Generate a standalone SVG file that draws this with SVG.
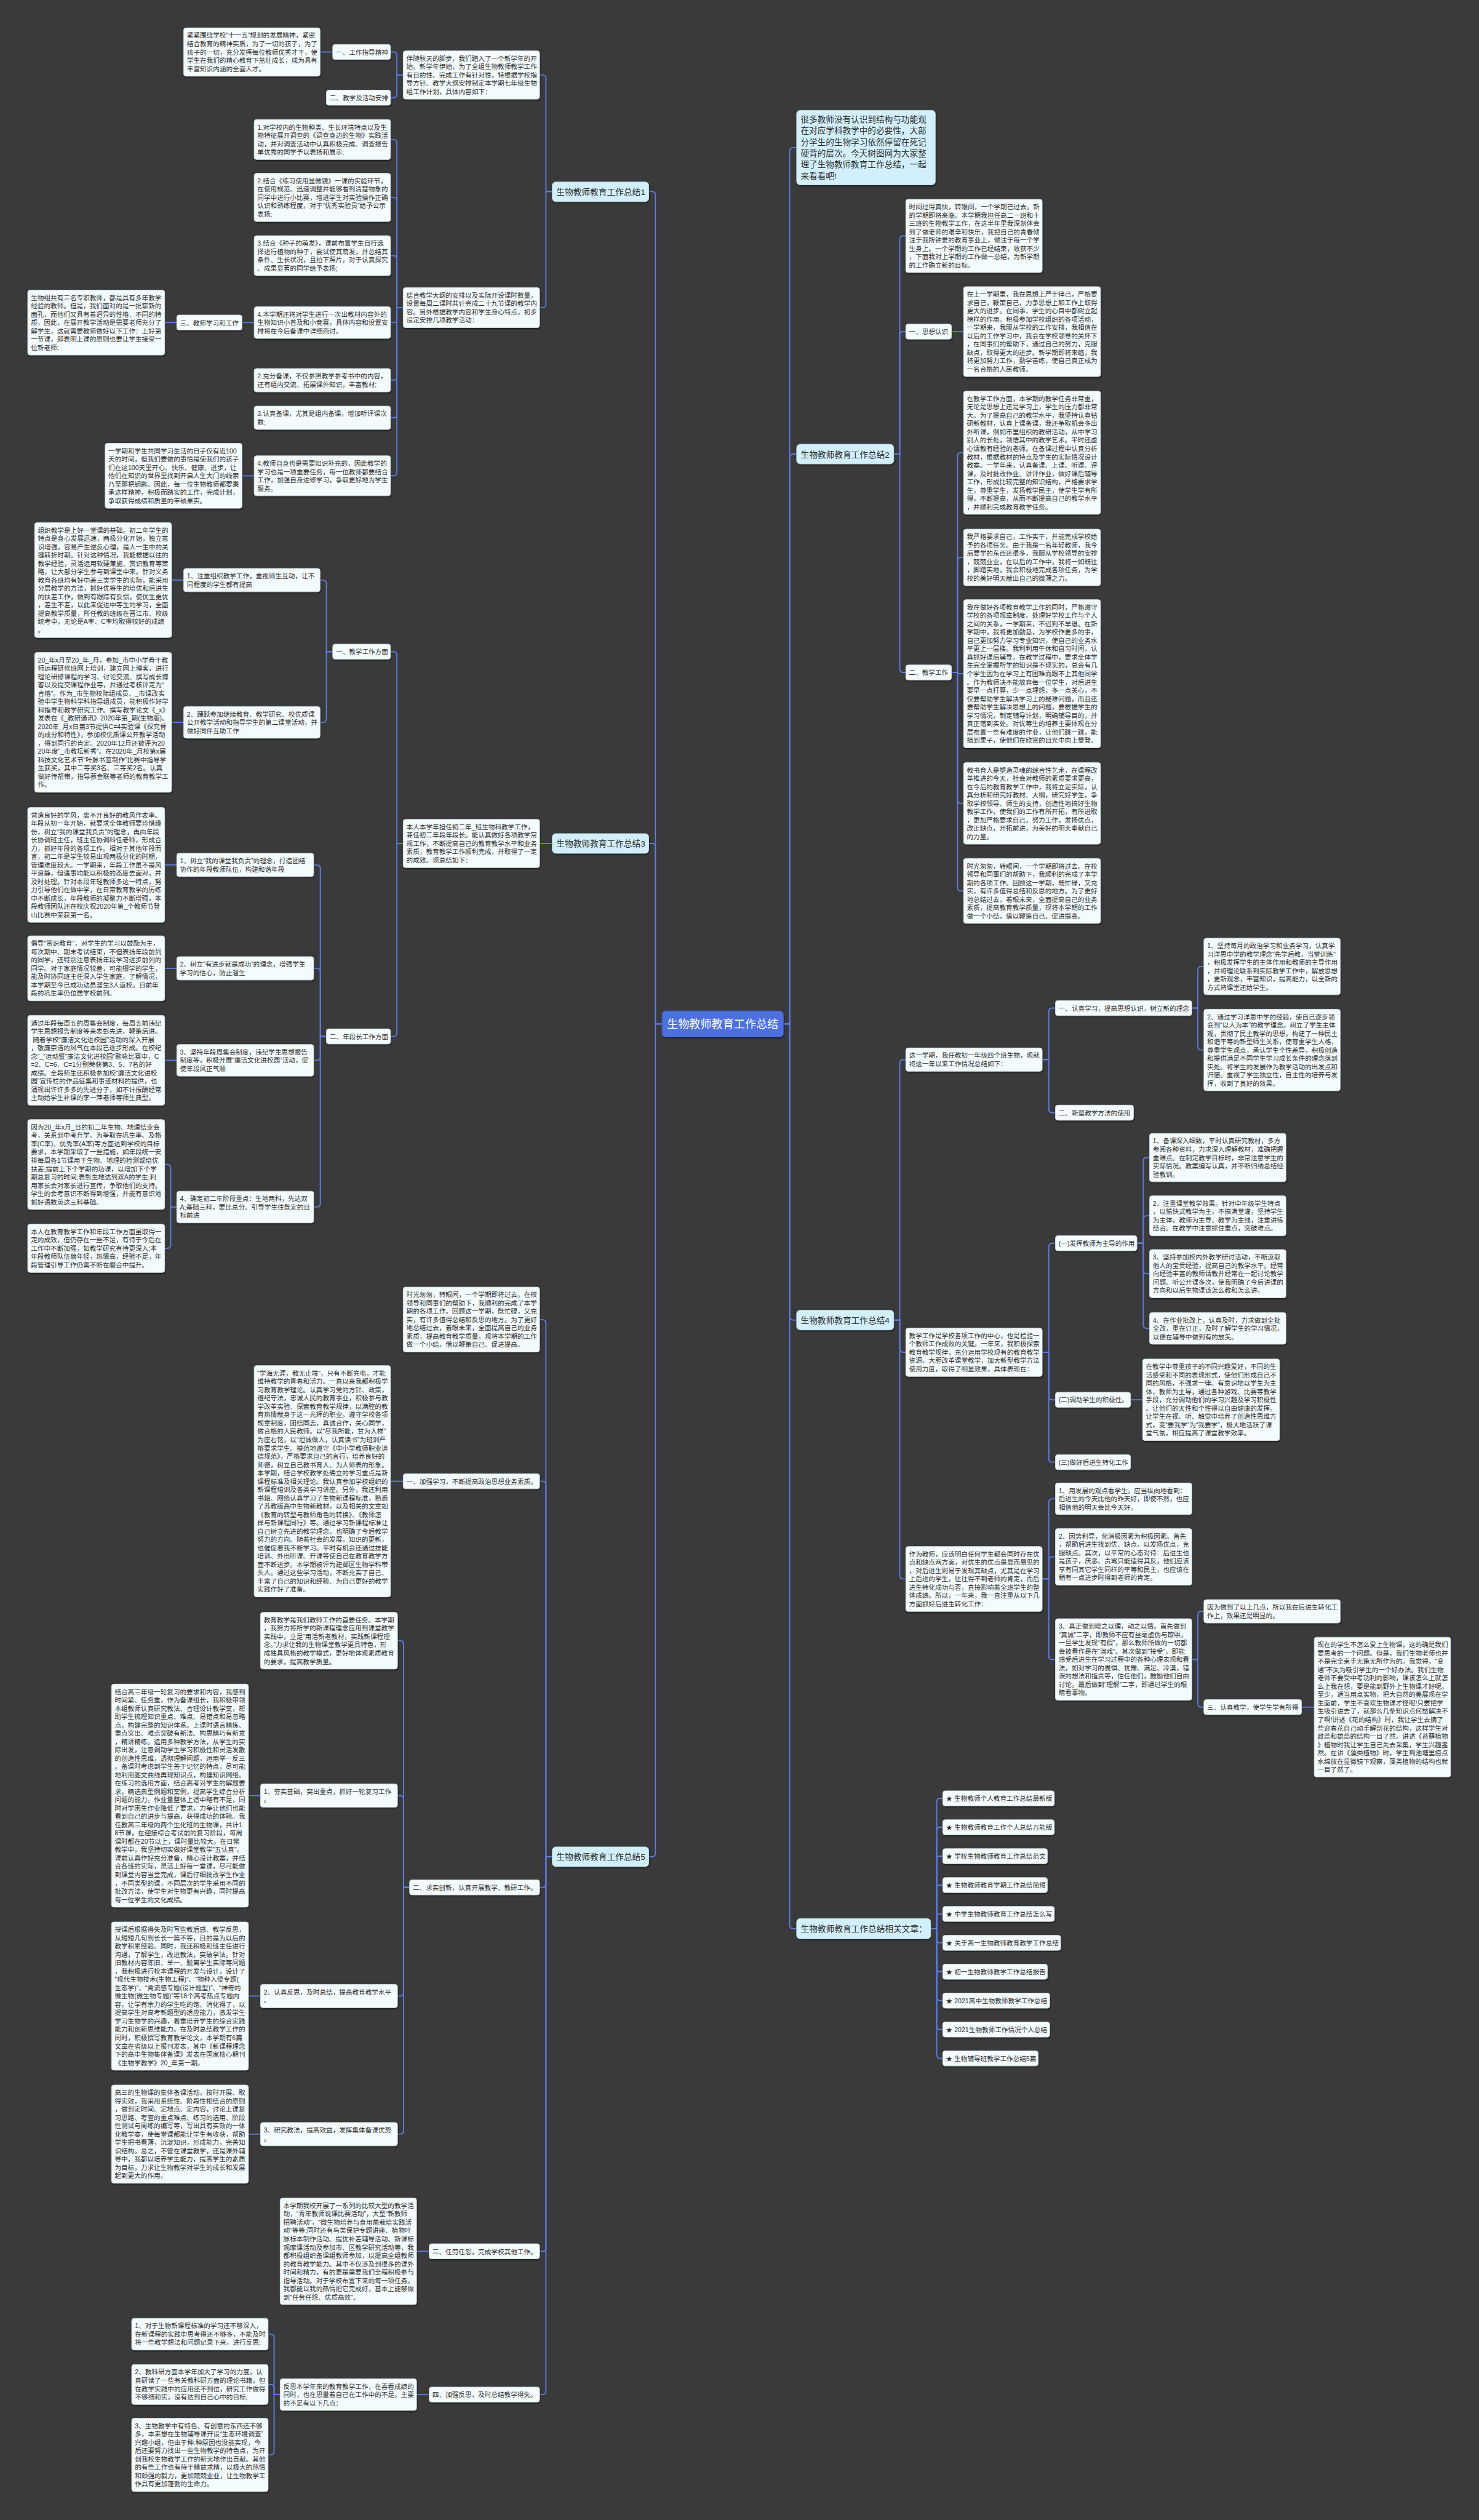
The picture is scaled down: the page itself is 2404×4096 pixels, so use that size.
<svg xmlns="http://www.w3.org/2000/svg" width="2404" height="4096" viewBox="0 0 2404 4096">
<defs>
<filter id="sh" x="-5%" y="-5%" width="110%" height="120%"><feDropShadow dx="1" dy="2" stdDeviation="1.2" flood-color="#000" flood-opacity="0.45"/></filter>
<style>
.b rect{fill:#f4fbfd;stroke:#cfdde3;stroke-width:1;filter:url(#sh)}
.b text{font-family:"Liberation Sans","Noto Sans CJK SC",sans-serif;font-size:11.3px;fill:#2e2e2e}
.m rect{fill:#d2f0fc;stroke:#b5dbe8;stroke-width:1;filter:url(#sh)}
.m text{font-family:"Liberation Sans","Noto Sans CJK SC",sans-serif;font-size:14.6px;fill:#2e2e2e}
.ctr rect{fill:#4b6fe2;stroke:#3d5fcf;stroke-width:1;filter:url(#sh)}
.ctr text{font-family:"Liberation Sans","Noto Sans CJK SC",sans-serif;font-size:19.3px;fill:#fff;text-anchor:middle}
#connectors path{fill:none;stroke:#5b7be4;stroke-width:2}
</style>
</defs>
<rect width="2404" height="4096" fill="#3a3a3a"/>
<g transform="scale(0.939)">
<g id="connectors">
<path d="M1146,1772.5H1134.5V337.5Q1134.5,331.5 1128.5,331.5H1123"/>
<path d="M1146,1772.5H1134.5V1466Q1134.5,1460 1128.5,1460H1123"/>
<path d="M1146,1772.5H1134.5V3208Q1134.5,3214 1128.5,3214H1123"/>
<path d="M1356,1772.5H1367V261.5Q1367,255.5 1373,255.5H1379"/>
<path d="M1356,1772.5H1367V792Q1367,786 1373,786H1379"/>
<path d="M1356,1772.5H1367V2279Q1367,2285 1373,2285H1379"/>
<path d="M1356,1772.5H1367V3332.5Q1367,3338.5 1373,3338.5H1379"/>
<path d="M956,331.5H945V135.75Q945,129.75 939,129.75H934"/>
<path d="M956,331.5H945V526.55Q945,532.55 939,532.55H934"/>
<path d="M698,129.75H687V96Q687,90 681,90H676"/>
<path d="M698,129.75H687V163Q687,169 681,169H676"/>
<path d="M576,90H554"/>
<path d="M698,532.55H687V247.55Q687,241.55 681,241.55H676"/>
<path d="M698,532.55H687V347.75Q687,341.75 681,341.75H676"/>
<path d="M698,532.55H687V448.55Q687,442.55 681,442.55H676"/>
<path d="M698,532.55H687V552.35Q687,558.35 681,558.35H676"/>
<path d="M698,532.55H687V652.15Q687,658.15 681,658.15H676"/>
<path d="M698,532.55H687V717.15Q687,723.15 681,723.15H676"/>
<path d="M698,532.55H687V817.55Q687,823.55 681,823.55H676"/>
<path d="M440,558.35H419"/>
<path d="M306,558.35H285"/>
<path d="M440,823.55H419"/>
<path d="M956,1460H934"/>
<path d="M698,1460H687V1134Q687,1128 681,1128H676"/>
<path d="M698,1460H687V1788Q687,1794 681,1794H676"/>
<path d="M576,1128H565V1010.15Q565,1004.15 559,1004.15H554"/>
<path d="M576,1128H565V1244.35Q565,1250.35 559,1250.35H554"/>
<path d="M318,1004.15H297"/>
<path d="M318,1250.35H297"/>
<path d="M565,1794H554.5V1503.15Q554.5,1497.15 548.5,1497.15H543"/>
<path d="M565,1794H554.5V1682.15Q554.5,1676.15 548.5,1676.15H543"/>
<path d="M565,1794H554.5V1829.35Q554.5,1835.35 548.5,1835.35H543"/>
<path d="M565,1794H554.5V2083.35Q554.5,2089.35 548.5,2089.35H543"/>
<path d="M306,1497.15H285"/>
<path d="M306,1676.15H285"/>
<path d="M306,1835.35H285"/>
<path d="M306,2089.35H295.5V2021.75Q295.5,2015.75 289.5,2015.75H285"/>
<path d="M306,2089.35H295.5V2154.75Q295.5,2160.75 289.5,2160.75H285"/>
<path d="M956,3214H945V2290.15Q945,2284.15 939,2284.15H934"/>
<path d="M956,3214H945V2570Q945,2564 939,2564H934"/>
<path d="M956,3214H945V3261Q945,3267 939,3267H934"/>
<path d="M956,3214H945V3891Q945,3897 939,3897H934"/>
<path d="M956,3214H945V4139Q945,4145 939,4145H934"/>
<path d="M698,2564H676"/>
<path d="M709,3267H698.5V2845.95Q698.5,2839.95 692.5,2839.95H688"/>
<path d="M709,3267H698.5V3114.15Q698.5,3108.15 692.5,3108.15H688"/>
<path d="M709,3267H698.5V3449.15Q698.5,3455.15 692.5,3455.15H688"/>
<path d="M709,3267H698.5V3688.15Q698.5,3694.15 692.5,3694.15H688"/>
<path d="M451,3108.15H430"/>
<path d="M451,3455.15H430"/>
<path d="M451,3694.15H430"/>
<path d="M743,3897H721"/>
<path d="M743,4145H721"/>
<path d="M485,4145H474.5V4046.35Q474.5,4040.35 468.5,4040.35H464"/>
<path d="M485,4145H474.5V4133.55Q474.5,4127.55 468.5,4127.55H464"/>
<path d="M485,4145H474.5V4243.35Q474.5,4249.35 468.5,4249.35H464"/>
<path d="M1547,786H1557.5V414.35Q1557.5,408.35 1563.5,408.35H1568"/>
<path d="M1547,786H1557.5V580Q1557.5,574 1563.5,574H1568"/>
<path d="M1547,786H1557.5V1158Q1557.5,1164 1563.5,1164H1568"/>
<path d="M1647,574H1668"/>
<path d="M1647,1164H1657.5V789.55Q1657.5,783.55 1663.5,783.55H1668"/>
<path d="M1647,1164H1657.5V970.95Q1657.5,964.95 1663.5,964.95H1668"/>
<path d="M1647,1164H1657.5V1166.15H1668"/>
<path d="M1647,1164H1657.5V1384.55Q1657.5,1390.55 1663.5,1390.55H1668"/>
<path d="M1647,1164H1657.5V1536.15Q1657.5,1542.15 1663.5,1542.15H1668"/>
<path d="M1547,2285H1557.5V1840.15Q1557.5,1834.15 1563.5,1834.15H1568"/>
<path d="M1547,2285H1557.5V2334.75Q1557.5,2340.75 1563.5,2340.75H1568"/>
<path d="M1547,2285H1557.5V2727.15Q1557.5,2733.15 1563.5,2733.15H1568"/>
<path d="M1804,1834.15H1815.5V1751Q1815.5,1745 1821.5,1745H1827"/>
<path d="M1804,1834.15H1815.5V1920Q1815.5,1926 1821.5,1926H1827"/>
<path d="M2063,1745H2073.5V1678.95Q2073.5,1672.95 2079.5,1672.95H2084"/>
<path d="M2063,1745H2073.5V1811.55Q2073.5,1817.55 2079.5,1817.55H2084"/>
<path d="M1804,2340.75H1815.5V2158Q1815.5,2152 1821.5,2152H1827"/>
<path d="M1804,2340.75H1815.5V2417Q1815.5,2423 1821.5,2423H1827"/>
<path d="M1804,2340.75H1815.5V2525Q1815.5,2531 1821.5,2531H1827"/>
<path d="M1968,2152H1979V2009.75Q1979,2003.75 1985,2003.75H1990"/>
<path d="M1968,2152H1979V2110.55Q1979,2104.55 1985,2104.55H1990"/>
<path d="M1968,2152H1979V2198.75Q1979,2204.75 1985,2204.75H1990"/>
<path d="M1968,2152H1979V2293.35Q1979,2299.35 1985,2299.35H1990"/>
<path d="M1957,2423H1978"/>
<path d="M1804,2733.15H1815.5V2600.35Q1815.5,2594.35 1821.5,2594.35H1827"/>
<path d="M1804,2733.15H1815.5V2700.95Q1815.5,2694.95 1821.5,2694.95H1827"/>
<path d="M1804,2733.15H1815.5V2866.55Q1815.5,2872.55 1821.5,2872.55H1827"/>
<path d="M2063,2872.55H2073.5V2795.15Q2073.5,2789.15 2079.5,2789.15H2084"/>
<path d="M2063,2872.55H2073.5V2949Q2073.5,2955 2079.5,2955H2084"/>
<path d="M2253,2955H2275"/>
<path d="M1611,3338.5H1621.5V3119Q1621.5,3113 1627.5,3113H1632"/>
<path d="M1611,3338.5H1621.5V3169Q1621.5,3163 1627.5,3163H1632"/>
<path d="M1611,3338.5H1621.5V3219Q1621.5,3213 1627.5,3213H1632"/>
<path d="M1611,3338.5H1621.5V3269Q1621.5,3263 1627.5,3263H1632"/>
<path d="M1611,3338.5H1621.5V3319Q1621.5,3313 1627.5,3313H1632"/>
<path d="M1611,3338.5H1621.5V3357Q1621.5,3363 1627.5,3363H1632"/>
<path d="M1611,3338.5H1621.5V3407Q1621.5,3413 1627.5,3413H1632"/>
<path d="M1611,3338.5H1621.5V3457Q1621.5,3463 1627.5,3463H1632"/>
<path d="M1611,3338.5H1621.5V3507Q1621.5,3513 1627.5,3513H1632"/>
<path d="M1611,3338.5H1621.5V3557Q1621.5,3563 1627.5,3563H1632"/>
</g>

<g id="center" class="ctr"><rect x="1146" y="1750" width="210" height="45" rx="6"/><text x="1251" y="1779.5">生物教师教育工作总结</text></g>

<g id="sum1" class="m"><rect x="956" y="315" width="167" height="34" rx="6"/><text x="963" y="337.3">生物教师教育工作总结1</text></g>
<g id="sum3" class="m"><rect x="956" y="1443" width="167" height="34" rx="6"/><text x="963" y="1465.8">生物教师教育工作总结3</text></g>
<g id="sum5" class="m"><rect x="956" y="3197" width="167" height="34" rx="6"/><text x="963" y="3219.8">生物教师教育工作总结5</text></g>
<g id="sum2" class="m"><rect x="1379" y="769" width="168" height="34" rx="6"/><text x="1386" y="791.8">生物教师教育工作总结2</text></g>
<g id="sum4" class="m"><rect x="1379" y="2268" width="168" height="34" rx="6"/><text x="1386" y="2290.8">生物教师教育工作总结4</text></g>
<g id="related" class="m"><rect x="1379" y="3321" width="232" height="35" rx="6"/><text x="1386" y="3344.3">生物教师教育工作总结相关文章：</text></g>
<g id="intro" class="m"><rect x="1379" y="191" width="240" height="129" rx="6"/><text x="1386" y="212" style="font-size:14.5px"><tspan x="1386">很多教师没有认识到结构与功能观</tspan><tspan x="1386" dy="19.5">在对应学科教学中的必要性，大部</tspan><tspan x="1386" dy="19.5">分学生的生物学习依然停留在死记</tspan><tspan x="1386" dy="19.5">硬背的层次。今天树图网为大家整</tspan><tspan x="1386" dy="19.5">理了生物教师教育工作总结，一起</tspan><tspan x="1386" dy="19.5">来看看吧!</tspan></text></g>

<!-- 总结1 -->
<g id="s1-intro" class="b"><rect x="698" y="88" width="236" height="83.5" rx="4"/><text x="703.5" y="105.2"><tspan x="703.5">伴随秋天的脚步，我们踏入了一个新学年的开</tspan><tspan x="703.5" dy="14.4">始。新学年伊始，为了全组生物教师教学工作</tspan><tspan x="703.5" dy="14.4">有目的性、完成工作有针对性，特根据学校指</tspan><tspan x="703.5" dy="14.4">导方针、教学大纲安排制定本学期七年级生物</tspan><tspan x="703.5" dy="14.4">组工作计划，具体内容如下：</tspan></text></g>
<g id="s1-g1" class="b"><rect x="576" y="77" width="100" height="26" rx="4"/><text x="581.5" y="94.5">一、工作指导精神</text></g>
<g id="s1-g1t" class="b"><rect x="318" y="48.25" width="236" height="83.5" rx="4"/><text x="323.5" y="65.45"><tspan x="323.5">紧紧围绕学校“十一五”规划的发展精神，紧密</tspan><tspan x="323.5" dy="14.4">结合教育的精神实质，为了一切的孩子，为了</tspan><tspan x="323.5" dy="14.4">孩子的一切，充分发挥每位教师优秀才干，使</tspan><tspan x="323.5" dy="14.4">学生在我们的精心教育下茁壮成长，成为具有</tspan><tspan x="323.5" dy="14.4">丰富知识内涵的全面人才。</tspan></text></g>
<g id="s1-g2" class="b"><rect x="565" y="156" width="111" height="26" rx="4"/><text x="570.5" y="173.5">二、教学及活动安排</text></g>
<g id="s1-plan" class="b"><rect x="698" y="498" width="236" height="69.1" rx="4"/><text x="703.5" y="515.2"><tspan x="703.5">结合教学大纲的安排以及实际开设课时数量，</tspan><tspan x="703.5" dy="14.4">设置每周二课时共计完成二十九节课的教学内</tspan><tspan x="703.5" dy="14.4">容。另外根据教学内容和学生身心特点，初步</tspan><tspan x="703.5" dy="14.4">设定安排几项教学活动：</tspan></text></g>
<g id="s1-i1" class="b"><rect x="440" y="207" width="236" height="69.1" rx="4"/><text x="445.5" y="224.2"><tspan x="445.5">1.对学校内的生物种类、生长环境特点以及生</tspan><tspan x="445.5" dy="14.4">物特征展开调查的《调查身边的生物》实践活</tspan><tspan x="445.5" dy="14.4">动，并对调查活动中认真积极完成、调查报告</tspan><tspan x="445.5" dy="14.4">单优秀的同学予以表扬和展示;</tspan></text></g>
<g id="s1-i2" class="b"><rect x="440" y="300" width="236" height="83.5" rx="4"/><text x="445.5" y="317.2"><tspan x="445.5">2.结合《练习使用显微镜》一课的实验环节，</tspan><tspan x="445.5" dy="14.4">在使用规范、迅速调整并能够看到清楚物象的</tspan><tspan x="445.5" dy="14.4">同学中进行小比赛，增进学生对实验操作正确</tspan><tspan x="445.5" dy="14.4">认识和熟练程度，对于“优秀实验员”给予公示</tspan><tspan x="445.5" dy="14.4">表扬;</tspan></text></g>
<g id="s1-i3" class="b"><rect x="440" y="408" width="236" height="69.1" rx="4"/><text x="445.5" y="425.2"><tspan x="445.5">3.结合《种子的萌发》，课前布置学生自行选</tspan><tspan x="445.5" dy="14.4">择进行植物的种子，尝试使其萌发，并总结其</tspan><tspan x="445.5" dy="14.4">条件、生长状况，且拍下照片，对于认真探究</tspan><tspan x="445.5" dy="14.4">、成果显著的同学给予表扬;</tspan></text></g>
<g id="s1-i4" class="b"><rect x="440" y="531" width="236" height="54.7" rx="4"/><text x="445.5" y="548.2"><tspan x="445.5">4.本学期还将对学生进行一次出教材内容外的</tspan><tspan x="445.5" dy="14.4">生物知识小普及和小竞赛，具体内容和设置安</tspan><tspan x="445.5" dy="14.4">排将在今后备课中详细商讨。</tspan></text></g>
<g id="s1-i5" class="b"><rect x="440" y="638" width="236" height="40.3" rx="4"/><text x="445.5" y="655.2"><tspan x="445.5">2.充分备课，不仅参照教学参考书中的内容，</tspan><tspan x="445.5" dy="14.4">还有组内交流、拓展课外知识，丰富教材;</tspan></text></g>
<g id="s1-i6" class="b"><rect x="440" y="703" width="236" height="40.3" rx="4"/><text x="445.5" y="720.2"><tspan x="445.5">3.认真备课，尤其是组内备课，增加听评课次</tspan><tspan x="445.5" dy="14.4">数;</tspan></text></g>
<g id="s1-i7" class="b"><rect x="440" y="789" width="236" height="69.1" rx="4"/><text x="445.5" y="806.2"><tspan x="445.5">4.教师自身也是需要知识补充的，因此教学的</tspan><tspan x="445.5" dy="14.4">学习也是一项重要任务，每一位教师都要结合</tspan><tspan x="445.5" dy="14.4">工作，加强自身进修学习，争取更好地为学生</tspan><tspan x="445.5" dy="14.4">服务。</tspan></text></g>
<g id="s1-g3" class="b"><rect x="306" y="545.35" width="113" height="26" rx="4"/><text x="311.5" y="562.85">三、教师学习和工作</text></g>
<g id="s1-g3t" class="b"><rect x="48" y="502.2" width="237" height="112.3" rx="4"/><text x="53.5" y="519.4"><tspan x="53.5">生物组共有三名专职教师，都是具有多年教学</tspan><tspan x="53.5" dy="14.4">经验的教师。但是，我们面对的是一批崭新的</tspan><tspan x="53.5" dy="14.4">面孔，而他们又具有着迥异的性格、不同的特</tspan><tspan x="53.5" dy="14.4">质，因此，在展开教学活动是需要老师充分了</tspan><tspan x="53.5" dy="14.4">解学生，这就需要教师做好以下工作：上好第</tspan><tspan x="53.5" dy="14.4">一节课，即表明上课的原则也要让学生接受一</tspan><tspan x="53.5" dy="14.4">位新老师;</tspan></text></g>
<g id="s1-i7t" class="b"><rect x="182" y="767.4" width="237" height="112.3" rx="4"/><text x="187.5" y="784.6"><tspan x="187.5">一学期和学生共同学习生活的日子仅有近100</tspan><tspan x="187.5" dy="14.4">天的时间，但我们要做的事情是使我们的孩子</tspan><tspan x="187.5" dy="14.4">们在这100天里开心、快乐、健康、进步，让</tspan><tspan x="187.5" dy="14.4">他们在知识的世界里找到开启人生大门的线索</tspan><tspan x="187.5" dy="14.4">乃至那把钥匙。因此，每一位生物教师都要秉</tspan><tspan x="187.5" dy="14.4">承这样精神，积极而踏实的工作，完成计划，</tspan><tspan x="187.5" dy="14.4">争取获得成绩和质量的丰硕果实。</tspan></text></g>

<!-- 总结3 -->
<g id="s3-intro" class="b"><rect x="698" y="1418.25" width="236" height="83.5" rx="4"/><text x="703.5" y="1435.45"><tspan x="703.5">本人本学年担任初二年_班生物科教学工作，</tspan><tspan x="703.5" dy="14.4">兼任初二年段年段长。能认真做好各项教学常</tspan><tspan x="703.5" dy="14.4">规工作，不断提高自己的教育教学水平和业务</tspan><tspan x="703.5" dy="14.4">素质，教育教学工作顺利完成，并取得了一定</tspan><tspan x="703.5" dy="14.4">的成效。现总结如下：</tspan></text></g>
<g id="s3-a1" class="b"><rect x="576" y="1115" width="100" height="26" rx="4"/><text x="581.5" y="1132.5">一、教学工作方面</text></g>
<g id="s3-a1-1" class="b"><rect x="318" y="984" width="236" height="40.3" rx="4"/><text x="323.5" y="1001.2"><tspan x="323.5">1、注重组织教学工作，重视师生互动，让不</tspan><tspan x="323.5" dy="14.4">同程度的学生都有提高</tspan></text></g>
<g id="s3-a1-1t" class="b"><rect x="60" y="904.8" width="237" height="198.7" rx="4"/><text x="65.5" y="922"><tspan x="65.5">组织教学是上好一堂课的基础。初二年学生的</tspan><tspan x="65.5" dy="14.4">特点是身心发展迅速，两极分化开始，独立意</tspan><tspan x="65.5" dy="14.4">识增强，容易产生逆反心理，是人一生中的关</tspan><tspan x="65.5" dy="14.4">键转折时期。针对这种情况，我能根据以往的</tspan><tspan x="65.5" dy="14.4">教学经验，灵活运用软硬兼施、赏识教育等策</tspan><tspan x="65.5" dy="14.4">略，让大部分学生参与到课堂中来。针对义务</tspan><tspan x="65.5" dy="14.4">教育各班均有好中差三类学生的实际，能采用</tspan><tspan x="65.5" dy="14.4">分层教学的方法，抓好优等生的培优和后进生</tspan><tspan x="65.5" dy="14.4">的扶差工作，做到有跟踪有反馈，使优生更优</tspan><tspan x="65.5" dy="14.4">，差生不差，以此来促进中等生的学习，全面</tspan><tspan x="65.5" dy="14.4">提高教学质量，所任教的班级在晋江市、校级</tspan><tspan x="65.5" dy="14.4">统考中，无论是A率、C率均取得较好的成绩</tspan><tspan x="65.5" dy="14.4">。</tspan></text></g>
<g id="s3-a1-2" class="b"><rect x="318" y="1223" width="236" height="54.7" rx="4"/><text x="323.5" y="1240.2"><tspan x="323.5">2、踊跃参加继续教育、教学研究、校优质课</tspan><tspan x="323.5" dy="14.4">公开教学活动和指导学生的第二课堂活动，并</tspan><tspan x="323.5" dy="14.4">做好同伴互助工作</tspan></text></g>
<g id="s3-a1-2t" class="b"><rect x="60" y="1129.4" width="237" height="241.9" rx="4"/><text x="65.5" y="1146.6"><tspan x="65.5">20_年x月至20_年_月，参加_市中小学骨干教</tspan><tspan x="65.5" dy="14.4">师远程研修班网上培训，建立网上博客，进行</tspan><tspan x="65.5" dy="14.4">理论研修课程的学习、讨论交流、撰写成长博</tspan><tspan x="65.5" dy="14.4">客以及提交课程作业等，并通过考核评定为“</tspan><tspan x="65.5" dy="14.4">合格”。作为_市生物校际组成员、_市课改实</tspan><tspan x="65.5" dy="14.4">验中学生物科学科指导组成员，能积极作好学</tspan><tspan x="65.5" dy="14.4">科指导和教学研究工作。撰写教学论文《_x》</tspan><tspan x="65.5" dy="14.4">发表在《_教研通讯》2020年第_期(生物版)。</tspan><tspan x="65.5" dy="14.4">2020年_月x日第3节提供C=4实验课《探究骨</tspan><tspan x="65.5" dy="14.4">的成分和特性》，参加校优质课公开教学活动</tspan><tspan x="65.5" dy="14.4">，得到同行的肯定。2020年12月还被评为20</tspan><tspan x="65.5" dy="14.4">20年度“_市教坛新秀”。在2020年_月校第x届</tspan><tspan x="65.5" dy="14.4">科技文化艺术节“叶脉书签制作”比赛中指导学</tspan><tspan x="65.5" dy="14.4">生获奖，其中二等奖3名、三等奖2名。认真</tspan><tspan x="65.5" dy="14.4">做好传帮带，指导蔡金联等老师的教育教学工</tspan><tspan x="65.5" dy="14.4">作。</tspan></text></g>
<g id="s3-a2" class="b"><rect x="565" y="1781" width="111" height="26" rx="4"/><text x="570.5" y="1798.5">二、年段长工作方面</text></g>
<g id="s3-a2-1" class="b"><rect x="306" y="1477" width="237" height="40.3" rx="4"/><text x="311.5" y="1494.2"><tspan x="311.5">1、树立“我的课堂我负责”的理念，打造团结</tspan><tspan x="311.5" dy="14.4">协作的年段教师队伍，构建和谐年段</tspan></text></g>
<g id="s3-a2-1t" class="b"><rect x="48" y="1397.8" width="237" height="198.7" rx="4"/><text x="53.5" y="1415"><tspan x="53.5">营造良好的学风，离不开良好的教风作表率。</tspan><tspan x="53.5" dy="14.4">年段从初一年开始，就要求全体教师要珍惜缘</tspan><tspan x="53.5" dy="14.4">份，树立“我的课堂我负责”的理念，再由年段</tspan><tspan x="53.5" dy="14.4">长协调班主任，班主任协调科任老师，形成合</tspan><tspan x="53.5" dy="14.4">力，抓好年段的各项工作。相对于其他年段而</tspan><tspan x="53.5" dy="14.4">言，初二年是学生较易出现两极分化的时期，</tspan><tspan x="53.5" dy="14.4">管理难度较大。一学期来，年段工作虽不是风</tspan><tspan x="53.5" dy="14.4">平浪静，但遇事均能以积极的态度去面对，并</tspan><tspan x="53.5" dy="14.4">及时处理。针对本段年轻教师多这一特点，努</tspan><tspan x="53.5" dy="14.4">力引导他们在做中学，在日常教育教学的历练</tspan><tspan x="53.5" dy="14.4">中不断成长，年段教师的凝聚力不断增强，本</tspan><tspan x="53.5" dy="14.4">段教师团队还在校庆祝2020年第_个教师节登</tspan><tspan x="53.5" dy="14.4">山比赛中荣获第一名。</tspan></text></g>
<g id="s3-a2-2" class="b"><rect x="306" y="1656" width="237" height="40.3" rx="4"/><text x="311.5" y="1673.2"><tspan x="311.5">2、树立“有进步就是成功”的理念，增强学生</tspan><tspan x="311.5" dy="14.4">学习的信心，防止溜生</tspan></text></g>
<g id="s3-a2-2t" class="b"><rect x="48" y="1620" width="237" height="112.3" rx="4"/><text x="53.5" y="1637.2"><tspan x="53.5">倡导“赏识教育”，对学生的学习以鼓励为主，</tspan><tspan x="53.5" dy="14.4">每次期中、期末考试结束，不但表扬年段前列</tspan><tspan x="53.5" dy="14.4">的同学，还特别注意表扬年段学习进步前列的</tspan><tspan x="53.5" dy="14.4">同学。对于家庭情况较差，可能辍学的学生，</tspan><tspan x="53.5" dy="14.4">能及时协同班主任深入学生家庭，了解情况，</tspan><tspan x="53.5" dy="14.4">本学期至今已成功动员溜生3人返校。目前年</tspan><tspan x="53.5" dy="14.4">段的巩生率仍位居学校前列。</tspan></text></g>
<g id="s3-a2-3" class="b"><rect x="306" y="1808" width="237" height="54.7" rx="4"/><text x="311.5" y="1825.2"><tspan x="311.5">3、坚持年段周集会制度，违纪学生思想报告</tspan><tspan x="311.5" dy="14.4">制度等，积极开展“廉洁文化进校园”活动，促</tspan><tspan x="311.5" dy="14.4">使年段风正气顺</tspan></text></g>
<g id="s3-a2-3t" class="b"><rect x="48" y="1757.6" width="237" height="155.5" rx="4"/><text x="53.5" y="1774.8"><tspan x="53.5">通过年段每周五的周集会制度，每周五前违纪</tspan><tspan x="53.5" dy="14.4">学生思想报告制度等来表彰先进，鞭策后进。</tspan><tspan x="53.5" dy="14.4"> 随着学校“廉洁文化进校园”活动的深入开展</tspan><tspan x="53.5" dy="14.4">，敬廉崇洁的风气在本段已逐步形成。在校纪</tspan><tspan x="53.5" dy="14.4">念“_”运动暨“廉洁文化进校园”歌咏比赛中，C</tspan><tspan x="53.5" dy="14.4">=2、C=6、C=1分别荣获第3、5、7名的好</tspan><tspan x="53.5" dy="14.4">成绩。全段师生还积极参加校“廉洁文化进校</tspan><tspan x="53.5" dy="14.4">园”宣传栏的作品征集和事迹材料的提供，也</tspan><tspan x="53.5" dy="14.4">涌现出许许多多的先进分子，如不计报酬经常</tspan><tspan x="53.5" dy="14.4">主动给学生补课的李一萍老师等师生典型。</tspan></text></g>
<g id="s3-a2-4" class="b"><rect x="306" y="2062" width="237" height="54.7" rx="4"/><text x="311.5" y="2079.2"><tspan x="311.5">4、确定初二年阶段重点：生地两科，先达双</tspan><tspan x="311.5" dy="14.4">A;基础三科，要比总分。引导学生往既定的目</tspan><tspan x="311.5" dy="14.4">标前进</tspan></text></g>
<g id="s3-a2-4a" class="b"><rect x="48" y="1938" width="237" height="155.5" rx="4"/><text x="53.5" y="1955.2"><tspan x="53.5">因为20_年x月_日的初二年生物、地理结业会</tspan><tspan x="53.5" dy="14.4">考，关系到中考升学。为争取在巩生率、及格</tspan><tspan x="53.5" dy="14.4">率(C率)、优秀率(A率)等方面达到学校的目标</tspan><tspan x="53.5" dy="14.4">要求，本学期采取了一些措施，如年段统一安</tspan><tspan x="53.5" dy="14.4">排每周各1节课用于生物、地理的检测或培优</tspan><tspan x="53.5" dy="14.4">扶差;提前上下个学期的功课，以增加下个学</tspan><tspan x="53.5" dy="14.4">期总复习的时间;表彰生地达到双A的学生;利</tspan><tspan x="53.5" dy="14.4">用家长会对家长进行宣传，争取他们的支持。</tspan><tspan x="53.5" dy="14.4">学生的会考意识不断得到增强，并能有意识地</tspan><tspan x="53.5" dy="14.4">抓好语数英这三科基础。</tspan></text></g>
<g id="s3-a2-4b" class="b"><rect x="48" y="2119" width="237" height="83.5" rx="4"/><text x="53.5" y="2136.2"><tspan x="53.5">本人在教育教学工作和年段工作方面虽取得一</tspan><tspan x="53.5" dy="14.4">定的成效，但仍存在一些不足，有待于今后在</tspan><tspan x="53.5" dy="14.4">工作中不断加强，如教学研究有待更深入;本</tspan><tspan x="53.5" dy="14.4">年段教师队伍偏年轻，热情高，经验不足，年</tspan><tspan x="53.5" dy="14.4">段管理引导工作仍需不断在磨合中提升。</tspan></text></g>

<!-- 总结5 -->
<g id="s5-intro" class="b"><rect x="698" y="2228" width="236" height="112.3" rx="4"/><text x="703.5" y="2245.2"><tspan x="703.5">时光匆匆，转眼间，一个学期即将过去。在校</tspan><tspan x="703.5" dy="14.4">领导和同事们的帮助下，我顺利的完成了本学</tspan><tspan x="703.5" dy="14.4">期的各项工作。回顾这一学期，既忙碌，又充</tspan><tspan x="703.5" dy="14.4">实，有许多值得总结和反思的地方。为了更好</tspan><tspan x="703.5" dy="14.4">地总结过去，着眼未来，全面提高自己的业务</tspan><tspan x="703.5" dy="14.4">素质，提高教育教学质量，现将本学期的工作</tspan><tspan x="703.5" dy="14.4">做一个小结，借以鞭策自己、促进提高。</tspan></text></g>
<g id="s5-a1" class="b"><rect x="698" y="2551" width="236" height="26" rx="4"/><text x="703.5" y="2568.5">一、加强学习，不断提高政治思想业务素质。</text></g>
<g id="s5-a1t" class="b"><rect x="440" y="2363.85" width="236" height="400.3" rx="4"/><text x="445.5" y="2381.05"><tspan x="445.5">“学海无涯，教无止境”，只有不断充电，才能</tspan><tspan x="445.5" dy="14.4">维持教学的青春和活力。一直以来我都积极学</tspan><tspan x="445.5" dy="14.4">习教育教学理论。认真学习党的方针、政策，</tspan><tspan x="445.5" dy="14.4">遵纪守法，忠诚人民的教育事业，积极参与教</tspan><tspan x="445.5" dy="14.4">学改革实验、探索教育教学规律，以满腔的教</tspan><tspan x="445.5" dy="14.4">育热情献身于这一光辉的职业。遵守学校各项</tspan><tspan x="445.5" dy="14.4">规章制度，团结同志，真诚合作，关心同学，</tspan><tspan x="445.5" dy="14.4">做合格的人民教师。以“尽我所能，甘为人梯”</tspan><tspan x="445.5" dy="14.4">为座右铭，以“坦诚做人，认真读书”为班训严</tspan><tspan x="445.5" dy="14.4">格要求学生。模范地遵守《中小学教师职业道</tspan><tspan x="445.5" dy="14.4">德规范》，严格要求自己的言行，培养良好的</tspan><tspan x="445.5" dy="14.4">师德，树立自己教书育人、为人师表的形象。</tspan><tspan x="445.5" dy="14.4">本学期，结合学校教学处确立的学习重点是新</tspan><tspan x="445.5" dy="14.4">课程标准及相关理论。我认真参加学校组织的</tspan><tspan x="445.5" dy="14.4">新课程培训及各类学习讲座。另外，我还利用</tspan><tspan x="445.5" dy="14.4">书籍、网络认真学习了生物新课程标准，熟悉</tspan><tspan x="445.5" dy="14.4">了苏教版高中生物新教材，以及相关的文章如</tspan><tspan x="445.5" dy="14.4">《教育的转型与教师角色的转换》、《教师怎</tspan><tspan x="445.5" dy="14.4">样与新课程同行》等。通过学习新课程标准让</tspan><tspan x="445.5" dy="14.4">自己树立先进的教学理念，也明确了今后教学</tspan><tspan x="445.5" dy="14.4">努力的方向。随着社会的发展，知识的更新，</tspan><tspan x="445.5" dy="14.4">也催促着我不断学习。平时有机会还通过技能</tspan><tspan x="445.5" dy="14.4">培训、外出听课、开课等使自己在教育教学方</tspan><tspan x="445.5" dy="14.4">面不断进步。本学期被评为建邺区生物学科带</tspan><tspan x="445.5" dy="14.4">头人。通过这些学习活动，不断充实了自己、</tspan><tspan x="445.5" dy="14.4">丰富了自己的知识和经验、为自己更好的教学</tspan><tspan x="445.5" dy="14.4">实践作好了准备。</tspan></text></g>
<g id="s5-a2" class="b"><rect x="709" y="3254" width="225" height="26" rx="4"/><text x="714.5" y="3271.5">二、求实创新，认真开展教学、教研工作。</text></g>
<g id="s5-a2-0" class="b"><rect x="451" y="2791" width="237" height="97.9" rx="4"/><text x="456.5" y="2808.2"><tspan x="456.5">教育教学是我们教师工作的首要任务。本学期</tspan><tspan x="456.5" dy="14.4">，我努力将所学的新课程理念应用到课堂教学</tspan><tspan x="456.5" dy="14.4">实践中，立足“用活新老教材，实践新课程理</tspan><tspan x="456.5" dy="14.4">念。”力求让我的生物课堂教学更具特色，形</tspan><tspan x="456.5" dy="14.4">成独具风格的教学模式，更好地体现素质教育</tspan><tspan x="456.5" dy="14.4">的要求，提高教学质量。</tspan></text></g>
<g id="s5-a2-1" class="b"><rect x="451" y="3088" width="237" height="40.3" rx="4"/><text x="456.5" y="3105.2"><tspan x="456.5">1、夯实基础，突出重点，抓好一轮复习工作</tspan><tspan x="456.5" dy="14.4">。</tspan></text></g>
<g id="s5-a2-1t" class="b"><rect x="193" y="2915.2" width="237" height="385.9" rx="4"/><text x="198.5" y="2932.4"><tspan x="198.5">结合高三年级一轮复习的要求和内容，我感到</tspan><tspan x="198.5" dy="14.4">时间紧、任务重，作为备课组长，我积极带领</tspan><tspan x="198.5" dy="14.4">本组教师认真研究教法、合理设计教学案，帮</tspan><tspan x="198.5" dy="14.4">助学生梳理知识重点、难点、易错点和易忽略</tspan><tspan x="198.5" dy="14.4">点，构建完整的知识体系。上课时语言精炼、</tspan><tspan x="198.5" dy="14.4">重点突出、难点突破有新法、构思精巧有新意</tspan><tspan x="198.5" dy="14.4">，精讲精练。运用多种教学方法，从学生的实</tspan><tspan x="198.5" dy="14.4">际出发，注意调动学生学习积极性和灵活发散</tspan><tspan x="198.5" dy="14.4">的创造性思维，透彻理解问题，运用举一反三</tspan><tspan x="198.5" dy="14.4">。备课时考虑到学生善于记忆的特点，尽可能</tspan><tspan x="198.5" dy="14.4">地利用图文曲线再现知识点，构建知识网络。</tspan><tspan x="198.5" dy="14.4">在练习的选用方面，结合高考对学生的解题要</tspan><tspan x="198.5" dy="14.4">求，精选典型例题和案例，提高学生综合分析</tspan><tspan x="198.5" dy="14.4">问题的能力。作业量整体上适中略有不足，同</tspan><tspan x="198.5" dy="14.4">时对学困生作业降低了要求，力争让他们也能</tspan><tspan x="198.5" dy="14.4">看到自己的进步与提高，获得成功的体验。我</tspan><tspan x="198.5" dy="14.4">任教高三年级的两个生化班的生物课，共计1</tspan><tspan x="198.5" dy="14.4">8节课，在迎接综合考试前的复习阶段，每周</tspan><tspan x="198.5" dy="14.4">课时都在20节以上，课时量比较大。在日常</tspan><tspan x="198.5" dy="14.4">教学中，我坚持切实做好课堂教学“五认真”。</tspan><tspan x="198.5" dy="14.4">课前认真作好充分准备，精心设计教案，并结</tspan><tspan x="198.5" dy="14.4">合各班的实际，灵活上好每一堂课，尽可能做</tspan><tspan x="198.5" dy="14.4">到课堂内容当堂完成，课后仔细批改学生作业</tspan><tspan x="198.5" dy="14.4">，不同类型的课，不同层次的学生采用不同的</tspan><tspan x="198.5" dy="14.4">批改方法，使学生对生物更有兴趣，同时提高</tspan><tspan x="198.5" dy="14.4">每一位学生的文化成绩。</tspan></text></g>
<g id="s5-a2-2" class="b"><rect x="451" y="3435" width="237" height="40.3" rx="4"/><text x="456.5" y="3452.2"><tspan x="456.5">2、认真反思，及时总结，提高教育教学水平</tspan><tspan x="456.5" dy="14.4">。</tspan></text></g>
<g id="s5-a2-2t" class="b"><rect x="193" y="3327" width="237" height="256.3" rx="4"/><text x="198.5" y="3344.2"><tspan x="198.5">授课后根据得失及时写些教后感、教学反思，</tspan><tspan x="198.5" dy="14.4">从短短几句到长长一篇不等，目的是为以后的</tspan><tspan x="198.5" dy="14.4">教学积累经验。同时，我还积极和班主任进行</tspan><tspan x="198.5" dy="14.4">沟通，了解学生，改进教法，突破学法。针对</tspan><tspan x="198.5" dy="14.4">旧教材内容陈旧、单一、脱离学生实际等问题</tspan><tspan x="198.5" dy="14.4">，我积极进行校本课程的开发与设计，设计了</tspan><tspan x="198.5" dy="14.4">“现代生物技术(生物工程)”、“物种入侵专题(</tspan><tspan x="198.5" dy="14.4">生态学)”、“禽流感专题(设计题型)”、“神奇的</tspan><tspan x="198.5" dy="14.4">微生物(微生物专题)”等18个高考热点专题内</tspan><tspan x="198.5" dy="14.4">容，让学有余力的学生吃的饱、消化得了，以</tspan><tspan x="198.5" dy="14.4">提高学生对高考新题型的适应能力，激发学生</tspan><tspan x="198.5" dy="14.4">学习生物学的兴趣，着重培养学生的综合实践</tspan><tspan x="198.5" dy="14.4">能力和创新思维能力。在及时总结教学工作的</tspan><tspan x="198.5" dy="14.4">同时，积极撰写教育教学论文，本学期有6篇</tspan><tspan x="198.5" dy="14.4">文章在省级以上报刊发表，其中《新课程理念</tspan><tspan x="198.5" dy="14.4">下的高中生物集体备课》发表在国家核心期刊</tspan><tspan x="198.5" dy="14.4">《生物学教学》20_年第一期。</tspan></text></g>
<g id="s5-a2-3" class="b"><rect x="451" y="3674" width="237" height="40.3" rx="4"/><text x="456.5" y="3691.2"><tspan x="456.5">3、研究教法，提高效益，发挥集体备课优势</tspan><tspan x="456.5" dy="14.4">。</tspan></text></g>
<g id="s5-a2-3t" class="b"><rect x="193" y="3609.2" width="237" height="169.9" rx="4"/><text x="198.5" y="3626.4"><tspan x="198.5">高三的生物课的集体备课活动，按时开展、取</tspan><tspan x="198.5" dy="14.4">得实效，我采用系统性、阶段性相结合的原则</tspan><tspan x="198.5" dy="14.4">，做到定时间、定地点、定内容，讨论上课复</tspan><tspan x="198.5" dy="14.4">习思路、考查的重点难点、练习的选用、阶段</tspan><tspan x="198.5" dy="14.4">性测试与周练的编写等，写出具有实效的一体</tspan><tspan x="198.5" dy="14.4">化教学案，使每堂课都能让学生有收获，帮助</tspan><tspan x="198.5" dy="14.4">学生把书看薄，沉淀知识，形成能力，完善知</tspan><tspan x="198.5" dy="14.4">识结构。总之，不管在课堂教学，还是课外辅</tspan><tspan x="198.5" dy="14.4">导中，我都以培养学生能力，提高学生的素质</tspan><tspan x="198.5" dy="14.4">为目标，力求让生物教学对学生的成长和发展</tspan><tspan x="198.5" dy="14.4">起到更大的作用。</tspan></text></g>
<g id="s5-a3" class="b"><rect x="743" y="3884" width="191" height="26" rx="4"/><text x="748.5" y="3901.5">三、任劳任怨，完成学校其他工作。</text></g>
<g id="s5-a3t" class="b"><rect x="485" y="3804.85" width="236" height="184.3" rx="4"/><text x="490.5" y="3822.05"><tspan x="490.5">本学期我校开展了一系列的比较大型的教学活</tspan><tspan x="490.5" dy="14.4">动，“青年教师说课比赛活动”，大型“新教师</tspan><tspan x="490.5" dy="14.4">招聘活动”，“微生物培养与食用菌栽培实践活</tspan><tspan x="490.5" dy="14.4">动”等等;同时还有鸟类保护专题讲座、植物叶</tspan><tspan x="490.5" dy="14.4">脉标本制作活动、提优补差辅导活动、新课标</tspan><tspan x="490.5" dy="14.4">观摩课活动及参加市、区教学研究活动等，我</tspan><tspan x="490.5" dy="14.4">都积极组织备课组教师参加，以提高全组教师</tspan><tspan x="490.5" dy="14.4">的教育教学能力。其中不仅涉及到很多的课外</tspan><tspan x="490.5" dy="14.4">时间和精力，有的更是需要我们全程积极参与</tspan><tspan x="490.5" dy="14.4">指导活动。对于学校布置下来的每一项任务，</tspan><tspan x="490.5" dy="14.4">我都能以我的热情把它完成好，基本上能够做</tspan><tspan x="490.5" dy="14.4">到“任劳任怨、优质高效”。</tspan></text></g>
<g id="s5-a4" class="b"><rect x="743" y="4132" width="191" height="26" rx="4"/><text x="748.5" y="4149.5">四、加强反思，及时总结教学得失。</text></g>
<g id="s5-a4t" class="b"><rect x="485" y="4117.65" width="236" height="54.7" rx="4"/><text x="490.5" y="4134.85"><tspan x="490.5">反思本学年来的教育教学工作，在喜看成绩的</tspan><tspan x="490.5" dy="14.4">同时，也在思量着自己在工作中的不足。主要</tspan><tspan x="490.5" dy="14.4">的不足有以下几点：</tspan></text></g>
<g id="s5-a4-1" class="b"><rect x="228" y="4013" width="236" height="54.7" rx="4"/><text x="233.5" y="4030.2"><tspan x="233.5">1、对于生物新课程标准的学习还不够深入，</tspan><tspan x="233.5" dy="14.4">在新课程的实践中思考得还不够多，不能及时</tspan><tspan x="233.5" dy="14.4">将一些教学想法和问题记录下来，进行反思;</tspan></text></g>
<g id="s5-a4-2" class="b"><rect x="228" y="4093" width="236" height="69.1" rx="4"/><text x="233.5" y="4110.2"><tspan x="233.5">2、教科研方面本学年加大了学习的力度，认</tspan><tspan x="233.5" dy="14.4">真研读了一些有关教科研方面的理论书籍，但</tspan><tspan x="233.5" dy="14.4">在教学实践中的应用还不到位，研究工作做得</tspan><tspan x="233.5" dy="14.4">不够细和实，没有达到自己心中的目标;</tspan></text></g>
<g id="s5-a4-3" class="b"><rect x="228" y="4186" width="236" height="126.7" rx="4"/><text x="233.5" y="4203.2"><tspan x="233.5">3、生物教学中有特色、有创意的东西还不够</tspan><tspan x="233.5" dy="14.4">多，本来想在生物辅导课开设“生态环境调查”</tspan><tspan x="233.5" dy="14.4">兴趣小组，但由于种.种原因也没能实现，今</tspan><tspan x="233.5" dy="14.4">后还要努力找出一些生物教学的特色点，为开</tspan><tspan x="233.5" dy="14.4">创我校生物教学工作的新天地作出贡献。其他</tspan><tspan x="233.5" dy="14.4">的有些工作也有待于精益求精，以极大的热情</tspan><tspan x="233.5" dy="14.4">和顽强的毅力，更加兢兢业业，让生物教学工</tspan><tspan x="233.5" dy="14.4">作具有更加蓬勃的生命力。</tspan></text></g>

<!-- 总结2 -->
<g id="s2-intro" class="b"><rect x="1568" y="345" width="236" height="126.7" rx="4"/><text x="1573.5" y="362.2"><tspan x="1573.5">时间过得真快，转眼间，一个学期已过去。新</tspan><tspan x="1573.5" dy="14.4">的学期即将来临。本学期我担任高二一班和十</tspan><tspan x="1573.5" dy="14.4">三班的生物教学工作，在这半年里我深刻体会</tspan><tspan x="1573.5" dy="14.4">到了做老师的艰辛和快乐，我把自己的青春倾</tspan><tspan x="1573.5" dy="14.4">注于我所钟爱的教育事业上，倾注于每一个学</tspan><tspan x="1573.5" dy="14.4">生身上。一个学期的工作已经结束，收获不少</tspan><tspan x="1573.5" dy="14.4">，下面我对上学期的工作做一总结，为新学期</tspan><tspan x="1573.5" dy="14.4">的工作确立新的目标。</tspan></text></g>
<g id="s2-a1" class="b"><rect x="1568" y="561" width="79" height="26" rx="4"/><text x="1573.5" y="578.5">一、思想认识</text></g>
<g id="s2-a1t" class="b"><rect x="1668" y="496.25" width="237" height="155.5" rx="4"/><text x="1673.5" y="513.45"><tspan x="1673.5">在上一学期里，我在思想上严于律己，严格要</tspan><tspan x="1673.5" dy="14.4">求自己，鞭策自己，力争思想上和工作上取得</tspan><tspan x="1673.5" dy="14.4">更大的进步。在同事、学生的心目中都树立起</tspan><tspan x="1673.5" dy="14.4">榜样的作用。积极参加学校组织的各项活动，</tspan><tspan x="1673.5" dy="14.4">一学期来，我服从学校的工作安排，我相信在</tspan><tspan x="1673.5" dy="14.4">以后的工作学习中，我会在学校领导的关怀下</tspan><tspan x="1673.5" dy="14.4">，在同事们的帮助下，通过自己的努力，克服</tspan><tspan x="1673.5" dy="14.4">缺点，取得更大的进步。新学期即将来临，我</tspan><tspan x="1673.5" dy="14.4">将更加努力工作，勤学苦练，使自己真正成为</tspan><tspan x="1673.5" dy="14.4">一名合格的人民教师。</tspan></text></g>
<g id="s2-a2" class="b"><rect x="1568" y="1151" width="79" height="26" rx="4"/><text x="1573.5" y="1168.5">二、教学工作</text></g>
<g id="s2-a2-1" class="b"><rect x="1668" y="677" width="237" height="213.1" rx="4"/><text x="1673.5" y="694.2"><tspan x="1673.5">在教学工作方面，本学期的教学任务非常重，</tspan><tspan x="1673.5" dy="14.4">无论是思想上还是学习上，学生的压力都非常</tspan><tspan x="1673.5" dy="14.4">大。为了提高自己的教学水平，我坚持认真钻</tspan><tspan x="1673.5" dy="14.4">研新教材，认真上课备课，我还争取机会多出</tspan><tspan x="1673.5" dy="14.4">外听课，例如市里组织的教研活动，从中学习</tspan><tspan x="1673.5" dy="14.4">别人的长处，领悟其中的教学艺术。平时还虚</tspan><tspan x="1673.5" dy="14.4">心请教有经验的老师。在备课过程中认真分析</tspan><tspan x="1673.5" dy="14.4">教材，根据教材的特点及学生的实际情况设计</tspan><tspan x="1673.5" dy="14.4">教案。一学年来，认真备课、上课、听课、评</tspan><tspan x="1673.5" dy="14.4">课，及时批改作业、讲评作业，做好课后辅导</tspan><tspan x="1673.5" dy="14.4">工作，形成比较完整的知识结构，严格要求学</tspan><tspan x="1673.5" dy="14.4">生，尊重学生，发扬教学民主，使学生学有所</tspan><tspan x="1673.5" dy="14.4">得，不断提高，从而不断提高自己的教学水平</tspan><tspan x="1673.5" dy="14.4">，并顺利完成教育教学任务。</tspan></text></g>
<g id="s2-a2-2" class="b"><rect x="1668" y="916" width="237" height="97.9" rx="4"/><text x="1673.5" y="933.2"><tspan x="1673.5">我严格要求自己，工作实干，并能完成学校给</tspan><tspan x="1673.5" dy="14.4">予的各项任务。由于我是一名年轻教师，我今</tspan><tspan x="1673.5" dy="14.4">后要学的东西还很多，我服从学校领导的安排</tspan><tspan x="1673.5" dy="14.4">，兢兢业业，在以后的工作中，我将一如既往</tspan><tspan x="1673.5" dy="14.4">，脚踏实地，我会积极地完成各项任务，为学</tspan><tspan x="1673.5" dy="14.4">校的美好明天献出自己的微薄之力。</tspan></text></g>
<g id="s2-a2-3" class="b"><rect x="1668" y="1038" width="237" height="256.3" rx="4"/><text x="1673.5" y="1055.2"><tspan x="1673.5">我在做好各项教育教学工作的同时，严格遵守</tspan><tspan x="1673.5" dy="14.4">学校的各项规章制度。处理好学校工作与个人</tspan><tspan x="1673.5" dy="14.4">之间的关系，一学期来，不迟到不早退。在新</tspan><tspan x="1673.5" dy="14.4">学期中，我将更加勤恳，为学校作更多的事，</tspan><tspan x="1673.5" dy="14.4">自己更加努力学习专业知识，使自己的业务水</tspan><tspan x="1673.5" dy="14.4">平更上一层楼。我利利用午休和自习时间，认</tspan><tspan x="1673.5" dy="14.4">真抓好课后辅导。在教学过程中，要求全体学</tspan><tspan x="1673.5" dy="14.4">生完全掌握所学的知识是不现实的，总会有几</tspan><tspan x="1673.5" dy="14.4">个学生因为在学习上有困难而跟不上其他同学</tspan><tspan x="1673.5" dy="14.4">。作为教师决不能放弃每一位学生，对后进生</tspan><tspan x="1673.5" dy="14.4">要早一点打算，少一点埋怨，多一点关心，不</tspan><tspan x="1673.5" dy="14.4">仅要帮助学生解决学习上的疑难问题，而且还</tspan><tspan x="1673.5" dy="14.4">要帮助学生解决思想上的问题，要根据学生的</tspan><tspan x="1673.5" dy="14.4">学习情况，制定辅导计划，明确辅导目的，并</tspan><tspan x="1673.5" dy="14.4">真正落到实处。对优等生的培养主要体现在分</tspan><tspan x="1673.5" dy="14.4">层布置一些有难度的作业，让他们跳一跳，能</tspan><tspan x="1673.5" dy="14.4">摘到果子，使他们在欣赏的目光中向上攀登。</tspan></text></g>
<g id="s2-a2-4" class="b"><rect x="1668" y="1320" width="237" height="141.1" rx="4"/><text x="1673.5" y="1337.2"><tspan x="1673.5">教书育人是塑造灵魂的综合性艺术，在课程改</tspan><tspan x="1673.5" dy="14.4">革推进的今天，社会对教师的素质要求更高，</tspan><tspan x="1673.5" dy="14.4">在今后的教育教学工作中，我将立足实际，认</tspan><tspan x="1673.5" dy="14.4">真分析和研究好教材、大纲，研究好学生，争</tspan><tspan x="1673.5" dy="14.4">取学校领导、师生的支持，创造性地搞好生物</tspan><tspan x="1673.5" dy="14.4">教学工作，使我们的工作有所开拓，有所进取</tspan><tspan x="1673.5" dy="14.4">，更加严格要求自己，努力工作，发扬优点，</tspan><tspan x="1673.5" dy="14.4">改正缺点，开拓前进，为美好的明天奉献自己</tspan><tspan x="1673.5" dy="14.4">的力量。</tspan></text></g>
<g id="s2-a2-5" class="b"><rect x="1668" y="1486" width="237" height="112.3" rx="4"/><text x="1673.5" y="1503.2"><tspan x="1673.5">时光匆匆，转眼间，一个学期即将过去。在校</tspan><tspan x="1673.5" dy="14.4">领导和同事们的帮助下，我顺利的完成了本学</tspan><tspan x="1673.5" dy="14.4">期的各项工作。回顾这一学期，既忙碌，又充</tspan><tspan x="1673.5" dy="14.4">实，有许多值得总结和反思的地方。为了更好</tspan><tspan x="1673.5" dy="14.4">地总结过去，着眼未来，全面提高自己的业务</tspan><tspan x="1673.5" dy="14.4">素质，提高教育教学质量，现将本学期的工作</tspan><tspan x="1673.5" dy="14.4">做一个小结，借以鞭策自己、促进提高。</tspan></text></g>

<!-- 总结4 -->
<g id="s4-b1" class="b"><rect x="1568" y="1814" width="236" height="40.3" rx="4"/><text x="1573.5" y="1831.2"><tspan x="1573.5">这一学期，我任教初一年级四个班生物，现就</tspan><tspan x="1573.5" dy="14.4">将这一年以来工作情况总结如下：</tspan></text></g>
<g id="s4-b1-1" class="b"><rect x="1827" y="1732" width="236" height="26" rx="4"/><text x="1832.5" y="1749.5">一、认真学习，提高思想认识，树立新的理念</text></g>
<g id="s4-b1-1a" class="b"><rect x="2084" y="1624" width="236" height="97.9" rx="4"/><text x="2089.5" y="1641.2"><tspan x="2089.5">1、坚持每月的政治学习和业务学习，认真学</tspan><tspan x="2089.5" dy="14.4">习洋思中学的教学理念“先学后教，当堂训练”</tspan><tspan x="2089.5" dy="14.4">，积极发挥学生的主体作用和教师的主导作用</tspan><tspan x="2089.5" dy="14.4">，并将理论联系到实际教学工作中，解放思想</tspan><tspan x="2089.5" dy="14.4">，更新观念，丰富知识，提高能力，以全新的</tspan><tspan x="2089.5" dy="14.4">方式将课堂还给学生。</tspan></text></g>
<g id="s4-b1-1b" class="b"><rect x="2084" y="1747" width="236" height="141.1" rx="4"/><text x="2089.5" y="1764.2"><tspan x="2089.5">2、通过学习洋思中学的经验，使自己逐步领</tspan><tspan x="2089.5" dy="14.4">会到“以人为本”的教学理念。树立了学生主体</tspan><tspan x="2089.5" dy="14.4">观，贯彻了民主教学的思想，构建了一种民主</tspan><tspan x="2089.5" dy="14.4">和谐平等的新型师生关系，使尊重学生人格，</tspan><tspan x="2089.5" dy="14.4">尊重学生观点，承认学生个性差异，积极创造</tspan><tspan x="2089.5" dy="14.4">和提供满足不同学生学习成长条件的理念落到</tspan><tspan x="2089.5" dy="14.4">实处。将学生的发展作为教学活动的出发点和</tspan><tspan x="2089.5" dy="14.4">归宿。重视了学生独立性，自主性的培养与发</tspan><tspan x="2089.5" dy="14.4">挥，收到了良好的效果。</tspan></text></g>
<g id="s4-b1-2" class="b"><rect x="1827" y="1913" width="135" height="26" rx="4"/><text x="1832.5" y="1930.5">二、新型教学方法的使用</text></g>
<g id="s4-b2" class="b"><rect x="1568" y="2299" width="236" height="83.5" rx="4"/><text x="1573.5" y="2316.2"><tspan x="1573.5">教学工作是学校各项工作的中心，也是检验一</tspan><tspan x="1573.5" dy="14.4">个教师工作成败的关键。一年来，我积极探索</tspan><tspan x="1573.5" dy="14.4">教育教学规律，充分运用学校现有的教育教学</tspan><tspan x="1573.5" dy="14.4">资源，大胆改革课堂教学，加大新型教学方法</tspan><tspan x="1573.5" dy="14.4">使用力度，取得了明显效果，具体表现在：</tspan></text></g>
<g id="s4-b2-1" class="b"><rect x="1827" y="2139" width="141" height="26" rx="4"/><text x="1832.5" y="2156.5">(一)发挥教师为主导的作用</text></g>
<g id="s4-b2-1a" class="b"><rect x="1990" y="1962" width="236" height="83.5" rx="4"/><text x="1995.5" y="1979.2"><tspan x="1995.5">1、备课深入细致，平时认真研究教材，多方</tspan><tspan x="1995.5" dy="14.4">参阅各种资料，力求深入理解教材，准确把握</tspan><tspan x="1995.5" dy="14.4">重难点。在制定教学目标时，非常注意学生的</tspan><tspan x="1995.5" dy="14.4">实际情况。教案编写认真，并不断归纳总结经</tspan><tspan x="1995.5" dy="14.4">验教训。</tspan></text></g>
<g id="s4-b2-1b" class="b"><rect x="1990" y="2070" width="236" height="69.1" rx="4"/><text x="1995.5" y="2087.2"><tspan x="1995.5">2、注重课堂教学效果。针对中年级学生特点</tspan><tspan x="1995.5" dy="14.4">，以愉快式教学为主，不搞满堂灌，坚持学生</tspan><tspan x="1995.5" dy="14.4">为主体，教师为主导、教学为主线，注重讲练</tspan><tspan x="1995.5" dy="14.4">结合。在教学中注意抓住重点，突破难点。</tspan></text></g>
<g id="s4-b2-1c" class="b"><rect x="1990" y="2163" width="236" height="83.5" rx="4"/><text x="1995.5" y="2180.2"><tspan x="1995.5">3、坚持参加校内外教学研讨活动，不断汲取</tspan><tspan x="1995.5" dy="14.4">他人的宝贵经验，提高自己的教学水平。经常</tspan><tspan x="1995.5" dy="14.4">向经验丰富的教师请教并经常在一起讨论教学</tspan><tspan x="1995.5" dy="14.4">问题。听公开课多次，使我明确了今后讲课的</tspan><tspan x="1995.5" dy="14.4">方向和以后生物课该怎么教和怎么讲。</tspan></text></g>
<g id="s4-b2-1d" class="b"><rect x="1990" y="2272" width="236" height="54.7" rx="4"/><text x="1995.5" y="2289.2"><tspan x="1995.5">4、在作业批改上，认真及时，力求做到全批</tspan><tspan x="1995.5" dy="14.4">全改，重在订正，及时了解学生的学习情况，</tspan><tspan x="1995.5" dy="14.4">以便在辅导中做到有的放矢。</tspan></text></g>
<g id="s4-b2-2" class="b"><rect x="1827" y="2410" width="130" height="26" rx="4"/><text x="1832.5" y="2427.5">(二)调动学生的积极性。</text></g>
<g id="s4-b2-2t" class="b"><rect x="1978" y="2352.45" width="237" height="141.1" rx="4"/><text x="1983.5" y="2369.65"><tspan x="1983.5">在教学中尊重孩子的不同兴趣爱好，不同的生</tspan><tspan x="1983.5" dy="14.4">活感受和不同的表现形式，使他们形成自己不</tspan><tspan x="1983.5" dy="14.4">同的风格，不强求一律。有意识地以学生为主</tspan><tspan x="1983.5" dy="14.4">体，教师为主导，通过各种游戏、比赛等教学</tspan><tspan x="1983.5" dy="14.4">手段，充分调动他们的学习兴趣及学习积极性</tspan><tspan x="1983.5" dy="14.4">。让他们的天性和个性得以自由健康的发挥。</tspan><tspan x="1983.5" dy="14.4">让学生在视、听、触觉中培养了创造性思维方</tspan><tspan x="1983.5" dy="14.4">式，变“要我学”为“我要学”，极大地活跃了课</tspan><tspan x="1983.5" dy="14.4">堂气氛，相应提高了课堂教学效率。</tspan></text></g>
<g id="s4-b2-3" class="b"><rect x="1827" y="2518" width="130" height="26" rx="4"/><text x="1832.5" y="2535.5">(三)做好后进生转化工作</text></g>
<g id="s4-b3" class="b"><rect x="1568" y="2677" width="236" height="112.3" rx="4"/><text x="1573.5" y="2694.2"><tspan x="1573.5">作为教师，应该明白任何学生都会同时存在优</tspan><tspan x="1573.5" dy="14.4">点和缺点两方面，对优生的优点是显而易见的</tspan><tspan x="1573.5" dy="14.4">，对后进生则易于发现其缺点，尤其是在学习</tspan><tspan x="1573.5" dy="14.4">上后进的学生，往往得不到老师的肯定，而后</tspan><tspan x="1573.5" dy="14.4">进生转化成功与否，直接影响着全班学生的整</tspan><tspan x="1573.5" dy="14.4">体成绩。所以，一年来，我一直注重从以下几</tspan><tspan x="1573.5" dy="14.4">方面抓好后进生转化工作：</tspan></text></g>
<g id="s4-b3-1" class="b"><rect x="1827" y="2567" width="236" height="54.7" rx="4"/><text x="1832.5" y="2584.2"><tspan x="1832.5">1、用发展的观点看学生。应当纵向地看到：</tspan><tspan x="1832.5" dy="14.4">后进生的今天比他的昨天好，即使不然，也应</tspan><tspan x="1832.5" dy="14.4">相信他的明天会比今天好。</tspan></text></g>
<g id="s4-b3-2" class="b"><rect x="1827" y="2646" width="236" height="97.9" rx="4"/><text x="1832.5" y="2663.2"><tspan x="1832.5">2、因势利导，化消极因素为积极因素。首先</tspan><tspan x="1832.5" dy="14.4">，帮助后进生找到优、缺点，以发扬优点，克</tspan><tspan x="1832.5" dy="14.4">服缺点。其次，以平常的心态对待：后进生也</tspan><tspan x="1832.5" dy="14.4">是孩子，厌恶、责骂只能适得其反，他们应该</tspan><tspan x="1832.5" dy="14.4">享有同其它学生同样的平等和民主，也应该在</tspan><tspan x="1832.5" dy="14.4">稍有一点进步时得到老师的肯定。</tspan></text></g>
<g id="s4-b3-3" class="b"><rect x="1827" y="2802" width="236" height="141.1" rx="4"/><text x="1832.5" y="2819.2"><tspan x="1832.5">3、真正做到晓之以理，动之以情。首先做到</tspan><tspan x="1832.5" dy="14.4">“真诚”二字，即教师不应有丝毫虚伪与欺哄，</tspan><tspan x="1832.5" dy="14.4">一旦学生发现“有假”，那么教师所做的一切都</tspan><tspan x="1832.5" dy="14.4">会被看作是在“演戏”。其次做到“接受”，即能</tspan><tspan x="1832.5" dy="14.4">感受后进生在学习过程中的各种心理表现和看</tspan><tspan x="1832.5" dy="14.4">法，如对学习的畏惧、犹豫、满足、冷漠，错</tspan><tspan x="1832.5" dy="14.4">误的想法和指责等，信任他们，鼓励他们自由</tspan><tspan x="1832.5" dy="14.4">讨论。最后做到“理解”二字，即通过学生的眼</tspan><tspan x="1832.5" dy="14.4">睛看事物。</tspan></text></g>
<g id="s4-b3-3a" class="b"><rect x="2084" y="2769" width="236" height="40.3" rx="4"/><text x="2089.5" y="2786.2"><tspan x="2089.5">因为做到了以上几点，所以我在后进生转化工</tspan><tspan x="2089.5" dy="14.4">作上，效果还是明显的。</tspan></text></g>
<g id="s4-b3-3b" class="b"><rect x="2084" y="2942" width="169" height="26" rx="4"/><text x="2089.5" y="2959.5">三、认真教学，使学生学有所得</text></g>
<g id="s4-b3-3bt" class="b"><rect x="2275" y="2834.05" width="236" height="241.9" rx="4"/><text x="2280.5" y="2851.25"><tspan x="2280.5">现在的学生不怎么爱上生物课，这的确是我们</tspan><tspan x="2280.5" dy="14.4">要思考的一个问题。但是，我们生物老师也并</tspan><tspan x="2280.5" dy="14.4">不是完全束手无策无所作为的。我觉得，“变</tspan><tspan x="2280.5" dy="14.4">通”不失为吸引学生的一个好办法。我们生物</tspan><tspan x="2280.5" dy="14.4">老师不要受中考功利的影响，课该怎么上就怎</tspan><tspan x="2280.5" dy="14.4">么上我在想，要是能到野外上生物课才好呢。</tspan><tspan x="2280.5" dy="14.4">至少，适当用点实物，把大自然的美展现在学</tspan><tspan x="2280.5" dy="14.4">生面前，学生不喜欢生物课才怪呢!只要把学</tspan><tspan x="2280.5" dy="14.4">生吸引进去了，就那么几条知识点何愁解决不</tspan><tspan x="2280.5" dy="14.4">了啊!讲述《花的结构》时，我让学生去摘了</tspan><tspan x="2280.5" dy="14.4">些迎春花自己动手解剖花的结构，这样学生对</tspan><tspan x="2280.5" dy="14.4">雌蕊和雄蕊的结构一目了然。讲述《苔藓植物</tspan><tspan x="2280.5" dy="14.4">》植物时我让学生自己先去采集，学生兴趣盎</tspan><tspan x="2280.5" dy="14.4">然。在讲《藻类植物》时，学生到池塘里捞点</tspan><tspan x="2280.5" dy="14.4">水绵放在显微镜下观察，藻类植物的结构也就</tspan><tspan x="2280.5" dy="14.4">一目了然了。</tspan></text></g>

<!-- 相关文章 -->
<g id="rel1" class="b"><rect x="1632" y="3100" width="193" height="26" rx="4"/><text x="1637.5" y="3117.5">★ 生物教师个人教育工作总结最新版</text></g>
<g id="rel2" class="b"><rect x="1632" y="3150" width="193" height="26" rx="4"/><text x="1637.5" y="3167.5">★ 生物教师教育工作个人总结万能版</text></g>
<g id="rel3" class="b"><rect x="1632" y="3200" width="181" height="26" rx="4"/><text x="1637.5" y="3217.5">★ 学校生物教师教育工作总结范文</text></g>
<g id="rel4" class="b"><rect x="1632" y="3250" width="181" height="26" rx="4"/><text x="1637.5" y="3267.5">★ 生物教师教育学期工作总结简短</text></g>
<g id="rel5" class="b"><rect x="1632" y="3300" width="193" height="26" rx="4"/><text x="1637.5" y="3317.5">★ 中学生物教师教育工作总结怎么写</text></g>
<g id="rel6" class="b"><rect x="1632" y="3350" width="204" height="26" rx="4"/><text x="1637.5" y="3367.5">★ 关于高一生物教师教育教学工作总结</text></g>
<g id="rel7" class="b"><rect x="1632" y="3400" width="181" height="26" rx="4"/><text x="1637.5" y="3417.5">★ 初一生物教师教学工作总结报告</text></g>
<g id="rel8" class="b"><rect x="1632" y="3450" width="185" height="26" rx="4"/><text x="1637.5" y="3467.5">★ 2021高中生物教师教学工作总结</text></g>
<g id="rel9" class="b"><rect x="1632" y="3500" width="185" height="26" rx="4"/><text x="1637.5" y="3517.5">★ 2021生物教师工作情况个人总结</text></g>
<g id="rel10" class="b"><rect x="1632" y="3550" width="165" height="26" rx="4"/><text x="1637.5" y="3567.5">★ 生物辅导班教学工作总结5篇</text></g>
</g>
</svg>
